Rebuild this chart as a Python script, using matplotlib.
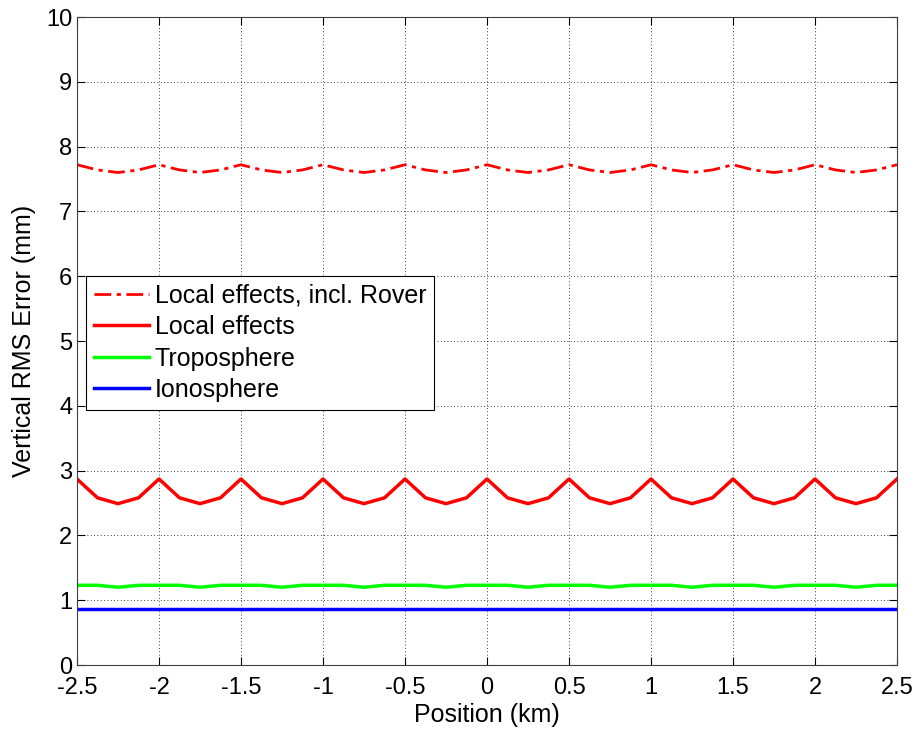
import numpy as np
import matplotlib
matplotlib.use("Agg")
import matplotlib.pyplot as plt

plt.rcParams['font.family'] = ['Liberation Sans', 'DejaVu Sans']

# Data: positions every 0.125 km, one period (0.5 km) pattern repeated
position_km = [-2.5, -2.375, -2.25, -2.125, -2.0, -1.875, -1.75, -1.625, -1.5,
               -1.375, -1.25, -1.125, -1.0, -0.875, -0.75, -0.625, -0.5,
               -0.375, -0.25, -0.125, 0.0, 0.125, 0.25, 0.375, 0.5,
               0.625, 0.75, 0.875, 1.0, 1.125, 1.25, 1.375, 1.5,
               1.625, 1.75, 1.875, 2.0, 2.125, 2.25, 2.375, 2.5]

local_rover = [7.72, 7.64, 7.60, 7.64] * 10 + [7.72]
local_effects = [2.87, 2.58, 2.49, 2.58] * 10 + [2.87]
troposphere = [1.23, 1.23, 1.20, 1.23] * 10 + [1.23]
ionosphere = [0.87] * 41

x_ticks = [-2.5, -2, -1.5, -1, -0.5, 0, 0.5, 1, 1.5, 2, 2.5]
x_ticklabels = ['-2.5', '-2', '-1.5', '-1', '-0.5', '0', '0.5', '1', '1.5', '2', '2.5']
y_ticks = list(range(0, 11))

fig = plt.figure(figsize=(9.17, 7.31), dpi=100)
ax = fig.add_axes([77/917, 1 - 665/731, 820/917, 648/731])

ax.plot(position_km, local_rover, color='#ff0000', lw=2.0, linestyle='-.',
        dashes=(6, 2, 1.5, 2), label='Local effects, incl. Rover')
ax.plot(position_km, local_effects, color='#ff0000', lw=2.5, label='Local effects')
ax.plot(position_km, troposphere, color='#00ff00', lw=2.5, label='Troposphere')
ax.plot(position_km, ionosphere, color='#0000ff', lw=2.5, label='Ionosphere')

ax.set_xlim(-2.5, 2.5)
ax.set_ylim(0, 10)
ax.set_xticks(x_ticks)
ax.set_xticklabels(x_ticklabels)
ax.set_yticks(y_ticks)
ax.tick_params(direction='in', top=True, right=True, labelsize=17, length=6, width=0.8)
ax.tick_params(axis='x', pad=8.5)
ax.grid(True, linestyle=(0, (1, 3)), color='black', linewidth=0.6)
for s in ax.spines.values():
    s.set_color('#404040')
ax.set_xlabel('Position (km)', fontsize=18, labelpad=3)
ax.set_ylabel('Vertical RMS Error (mm)', fontsize=18, labelpad=7)

leg = ax.legend(loc='lower left', bbox_to_anchor=(0.011, 0.394), fontsize=18,
                frameon=True, fancybox=False, edgecolor='black', framealpha=1,
                handlelength=2.2, handletextpad=0.25, borderpad=0.3, labelspacing=0.3,
                borderaxespad=0)
leg.get_frame().set_linewidth(0.8)

fig.savefig('out.png', dpi=100)
